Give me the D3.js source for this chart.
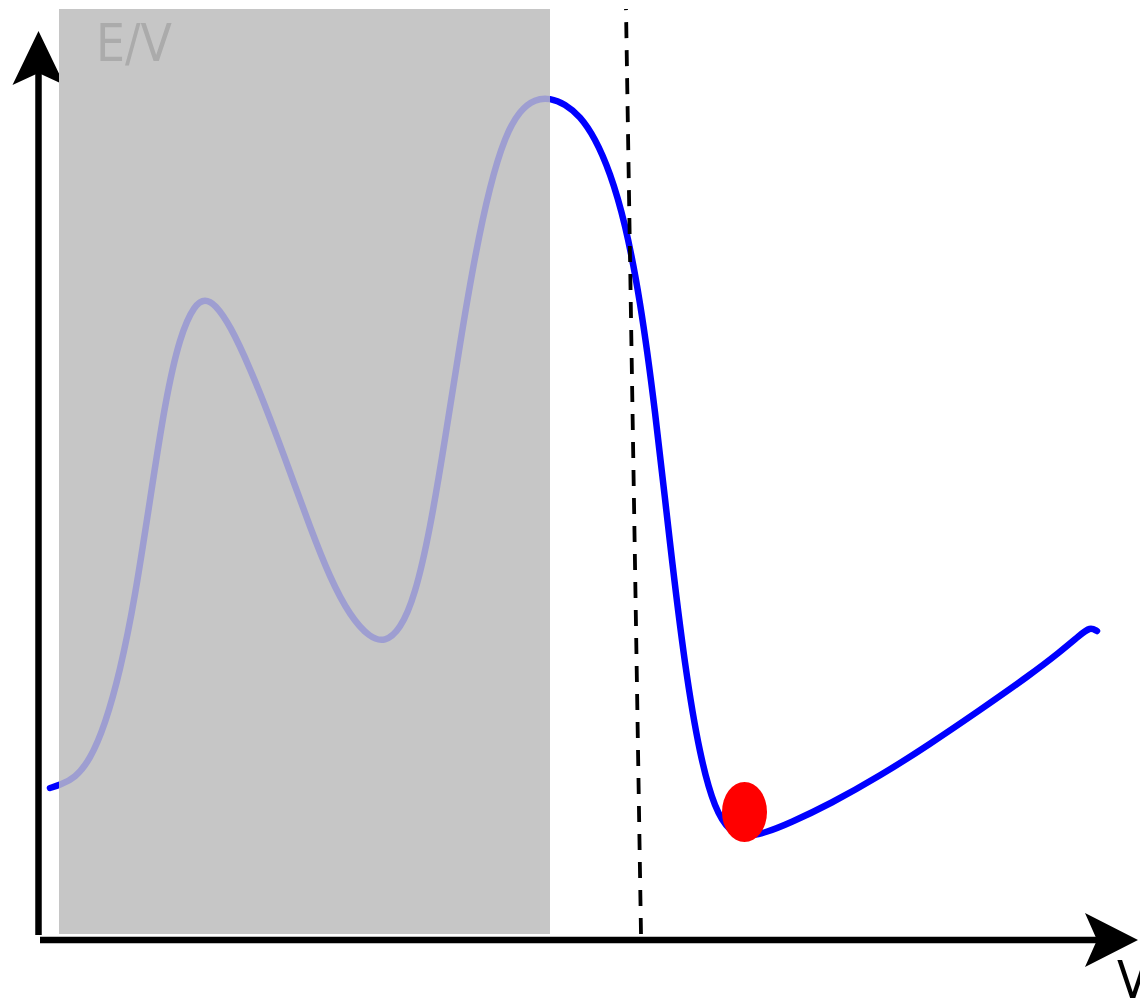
<!DOCTYPE html>
<html>
<head>
    <meta charset="utf-8" />
    <script src="https://cdn.jsdelivr.net/npm/d3@7/dist/d3.min.js"></script>
    <style>
        html, body { margin: 0; padding: 0; background: #fff; }
        svg { display: block; }
        .label { font-family: "DejaVu Sans Condensed", "DejaVu Sans", sans-serif; font-stretch: condensed; }
    </style>
</head>
<body>
    <svg id="chart"></svg>
    <script type="text/javascript">
        // potential curve E(V), x = V, y = E (arbitrary units)
        var curveX = [0.10, 0.20, 0.35, 0.50, 0.65, 0.80, 0.95, 1.10, 1.25, 1.40, 1.55, 1.65, 1.75, 1.90,
                      2.10, 2.30, 2.50, 2.70, 2.90, 3.10, 3.30, 3.45, 3.60, 3.75, 3.90, 4.05, 4.20, 4.35,
                      4.50, 4.65, 4.80, 4.95, 5.10, 5.25, 5.40, 5.55, 5.70, 5.85, 6.00, 6.15, 6.30, 6.45,
                      6.60, 6.75, 6.90, 7.05, 7.25, 7.50, 7.90, 8.40, 8.90, 9.40, 9.90, 10.20, 10.40, 10.50, 10.57];
        var curveY = [1.52, 1.55, 1.62, 1.80, 2.15, 2.68, 3.42, 4.40, 5.38, 6.05, 6.36, 6.41, 6.36, 6.15,
                      5.72, 5.22, 4.68, 4.13, 3.62, 3.24, 3.02, 2.98, 3.10, 3.44, 4.10, 5.00, 5.97, 6.85,
                      7.55, 8.04, 8.30, 8.41, 8.42, 8.36, 8.24, 8.02, 7.68, 7.18, 6.42, 5.32, 3.95, 2.72,
                      1.83, 1.30, 1.08, 1.03, 1.07, 1.17, 1.36, 1.64, 1.96, 2.30, 2.65, 2.88, 3.05, 3.13, 3.09];

        // shaded (forbidden) region and threshold line
        var shadeX = [0.19, 5.10];
        var shadeY = [0.06, 9.31];
        var thresholdX = [6.01, 5.86];
        var thresholdY = [0.06, 9.31];

        // current state (ball)
        var ballX = [7.045];
        var ballY = [1.28];

        var axisLabels = ['E/V', 'V'];

        var width = 1140, height = 1000;

        var x = d3.scaleLinear().domain([0, 11]).range([40, 1140]);
        var y = d3.scaleLinear().domain([0, 9]).range([940, 40]);

        var svg = d3.select('#chart').attr('width', width).attr('height', height);

        var points = curveX.map(function(v, i) { return {x: v, y: curveY[i]}; });
        var line = d3.line()
            .x(function(d) { return x(d.x); })
            .y(function(d) { return y(d.y); })
            .curve(d3.curveBasis);

        // axes with arrow heads
        var x0 = x(0) - 1.5, y0 = y(0);
        svg.append('line').attr('x1', x0).attr('y1', y0 - 5).attr('x2', x0).attr('y2', 60)
            .attr('stroke', '#000').attr('stroke-width', 6.5);
        svg.append('path')
            .attr('d', 'M' + x0 + ',31 L' + (x0 + 26) + ',85 L' + x0 + ',73 L' + (x0 - 26) + ',85 Z')
            .attr('fill', '#000');

        svg.append('line').attr('x1', x(0)).attr('y1', y0).attr('x2', 1110).attr('y2', y0)
            .attr('stroke', '#000').attr('stroke-width', 6.5);
        svg.append('path')
            .attr('d', 'M1138,' + y0 + ' L1085,' + (y0 - 27) + ' L1097,' + y0 + ' L1085,' + (y0 + 27) + ' Z')
            .attr('fill', '#000');

        // shaded region
        svg.append('rect')
            .attr('x', x(shadeX[0])).attr('y', y(shadeY[1]))
            .attr('width', x(shadeX[1]) - x(shadeX[0]))
            .attr('height', y(shadeY[0]) - y(shadeY[1]))
            .attr('fill', '#c6c6c6');

        // curve
        svg.append('path').datum(points)
            .attr('d', line)
            .attr('fill', 'none').attr('stroke', '#0000ff')
            .attr('stroke-width', 6.5).attr('stroke-linecap', 'round');

        // fade part of the curve inside the shaded region
        svg.append('rect')
            .attr('x', x(shadeX[0])).attr('y', y(shadeY[1]))
            .attr('width', x(shadeX[1]) - x(shadeX[0]))
            .attr('height', y(shadeY[0]) - y(shadeY[1]))
            .attr('fill', '#c6c6c6').attr('opacity', 0.8);

        svg.append('text').attr('class', 'label')
            .attr('x', 96).attr('y', 61)
            .attr('font-size', 51).attr('fill', '#ababab')
            .text(axisLabels[0]);

        // threshold
        svg.append('line')
            .attr('x1', x(thresholdX[0])).attr('y1', y(thresholdY[0]))
            .attr('x2', x(thresholdX[1])).attr('y2', y(thresholdY[1]))
            .attr('stroke', '#000').attr('stroke-width', 3.8)
            .attr('stroke-dasharray', '16 12');

        // ball
        svg.selectAll('.ball').data(ballX).enter().append('ellipse')
            .attr('class', 'ball')
            .attr('cx', function(d) { return x(d); })
            .attr('cy', function(d, i) { return y(ballY[i]); })
            .attr('rx', 22.5).attr('ry', 30)
            .attr('fill', '#ff0000');

        svg.append('text').attr('class', 'label')
            .attr('x', 1117).attr('y', 998)
            .attr('font-size', 51).attr('fill', '#000')
            .text(axisLabels[1]);
    </script>
</body>
</html>
